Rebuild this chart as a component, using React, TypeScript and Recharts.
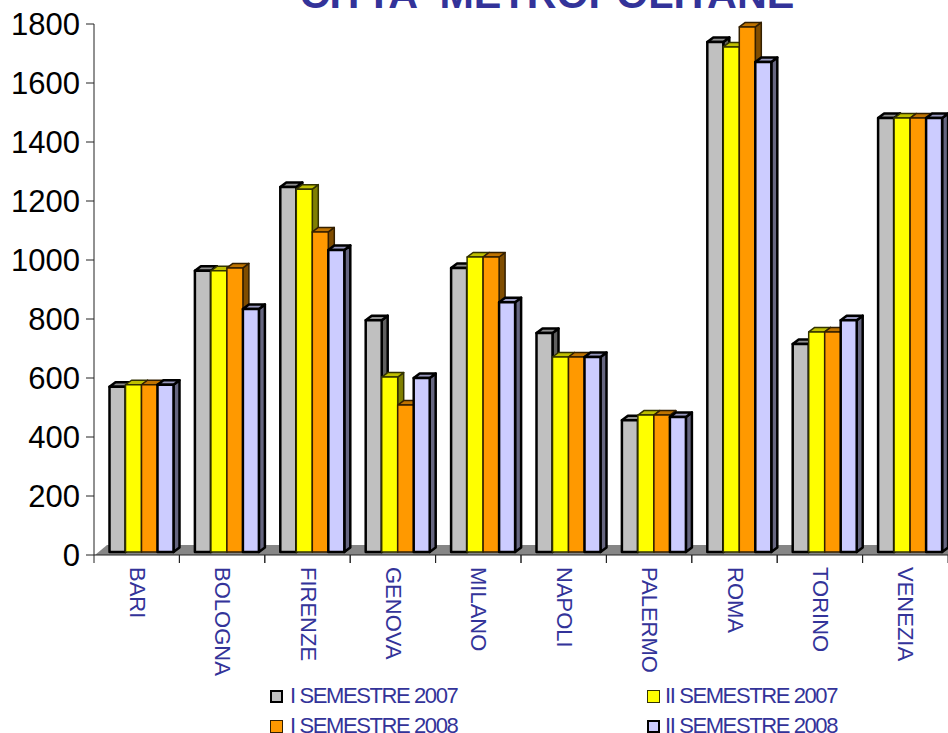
import { Bar, BarChart, Legend, ReferenceArea, XAxis, YAxis } from 'recharts';

const cities = ['BARI', 'BOLOGNA', 'FIRENZE', 'GENOVA', 'MILANO', 'NAPOLI', 'PALERMO', 'ROMA', 'TORINO', 'VENEZIA'];
const sem1_2007 = [560, 953, 1237, 786, 963, 742, 447, 1729, 705, 1471];
const sem2_2007 = [567, 953, 1230, 593, 1000, 661, 464, 1712, 746, 1471];
const sem1_2008 = [567, 963, 1085, 498, 1000, 661, 464, 1780, 746, 1471];
const sem2_2008 = [567, 824, 1024, 590, 847, 661, 458, 1661, 786, 1471];
const yTicks = [0, 200, 400, 600, 800, 1000, 1200, 1400, 1600, 1800];

const seriesNames = ['I SEMESTRE 2007', 'II SEMESTRE 2007', 'I SEMESTRE 2008', 'II SEMESTRE 2008'];

const data = cities.map((city, i) => ({
    city,
    s1: sem1_2007[i],
    s2: sem2_2007[i],
    s3: sem1_2008[i],
    s4: sem2_2008[i],
}));

const BLUE = '#333399';
const FONT = '"Liberation Sans", Arial, sans-serif';
const BAND = 85.4;

const styles = [
    { key: 's1', fill: '#c0c0c0', top: '#909090', side: '#606060', stroke: '#000', sw: 2.5 },
    { key: 's2', fill: '#ffff00', top: '#bfbf00', side: '#808000', stroke: '#333300', sw: 1.5 },
    { key: 's3', fill: '#ff9900', top: '#bf7300', side: '#804d00', stroke: '#331f00', sw: 1.5 },
    { key: 's4', fill: '#ccccff', top: '#9999bf', side: '#666680', stroke: '#000', sw: 2.5 },
];

function Bar3D(props: any) {
    const { x, y, width, height, fill, top, side, stroke, sw } = props;
    const dx = 6;
    const dy = 4.5;
    const left = x + 4;
    const right = left + width;
    const t = y - 3;
    const b = t + height;
    return (
        <g stroke={stroke} strokeWidth={sw} strokeLinejoin="round">
            <polygon points={`${right},${t} ${right + dx},${t - dy} ${right + dx},${b - dy} ${right},${b}`} fill={side} />
            <polygon points={`${left},${t} ${left + dx},${t - dy} ${right + dx},${t - dy} ${right},${t}`} fill={top} />
            <rect x={left} y={t} width={width} height={height} fill={fill} />
        </g>
    );
}

function Floor(props: any) {
    const { x, y, width, height } = props;
    return (
        <polygon
            points={`${x + 1},${y + height} ${x + 13},${y} ${x + width},${y} ${x + width},${y + height}`}
            fill="#868686"
        />
    );
}

function CityTick(props: any) {
    const { x, y, payload } = props;
    return (
        <g>
            <line x1={x - BAND / 2} x2={x - BAND / 2} y1={y - 8} y2={y} stroke="#222" />
            <line x1={x + BAND / 2} x2={x + BAND / 2} y1={y - 8} y2={y} stroke="#222" />
            <text
                x={0}
                y={0}
                transform={`translate(${x - 7},${y + 4}) rotate(90)`}
                fontFamily={FONT}
                fontSize={22}
                fill={BLUE}
            >
                {payload.value}
            </text>
        </g>
    );
}

function LegendBox() {
    return (
        <div style={{ position: 'relative', width: 948, height: 60, fontFamily: FONT, fontSize: 22, letterSpacing: -1.4, color: BLUE }}>
            {seriesNames.map((name, i) => {
                const s = styles[i];
                return (
                    <div
                        key={name}
                        style={{ position: 'absolute', left: i % 2 ? 647 : 270, top: i < 2 ? 8 : 38, height: 22, whiteSpace: 'nowrap', lineHeight: '30px' }}
                    >
                        <span
                            style={{
                                position: 'absolute',
                                left: 0,
                                top: 9,
                                width: 13,
                                height: 13,
                                boxSizing: 'border-box',
                                background: s.fill,
                                border: `${s.sw}px solid ${s.stroke}`,
                            }}
                        />
                        <span style={{ marginLeft: i % 2 ? 18 : 20 }}>{name}</span>
                    </div>
                );
            })}
        </div>
    );
}

export default function App() {
    return (
        <div style={{ position: 'absolute', left: 0, top: 0, width: 948, height: 733, overflow: 'hidden', background: '#fff' }}>
            <BarChart
                width={960}
                height={733}
                data={data}
                margin={{ top: 24, right: 12, bottom: 0, left: 0 }}
                barGap={0}
                barCategoryGap={11.5}
            >
                <text x={547} y={8} textAnchor="middle" fontFamily={FONT} fontWeight="bold" fontSize={41.3} fill={BLUE}>
                    CITTA' METROPOLITANE
                </text>
                <XAxis
                    dataKey="city"
                    interval={0}
                    height={118}
                    stroke="#222"
                    tickLine={false}
                    tick={<CityTick />}
                />
                <YAxis
                    width={94}
                    domain={[0, 1800]}
                    ticks={yTicks}
                    interval={0}
                    stroke="#222"
                    tickSize={8}
                    tickMargin={6}
                    tick={{ fill: '#000', fontSize: 31, fontFamily: FONT }}
                />
                <ReferenceArea y1={0} y2={34} shape={<Floor />} ifOverflow="visible" />
                <Legend
                    verticalAlign="bottom"
                    height={60}
                    content={<LegendBox />}
                    wrapperStyle={{ left: 0, bottom: 0, width: 948, height: 60 }}
                />
                {styles.map((s, i) => (
                    <Bar
                        key={s.key}
                        dataKey={s.key}
                        name={seriesNames[i]}
                        isAnimationActive={false}
                        shape={(p: any) => <Bar3D {...p} top={s.top} side={s.side} fill={s.fill} stroke={s.stroke} sw={s.sw} />}
                    />
                ))}
            </BarChart>
        </div>
    );
}
